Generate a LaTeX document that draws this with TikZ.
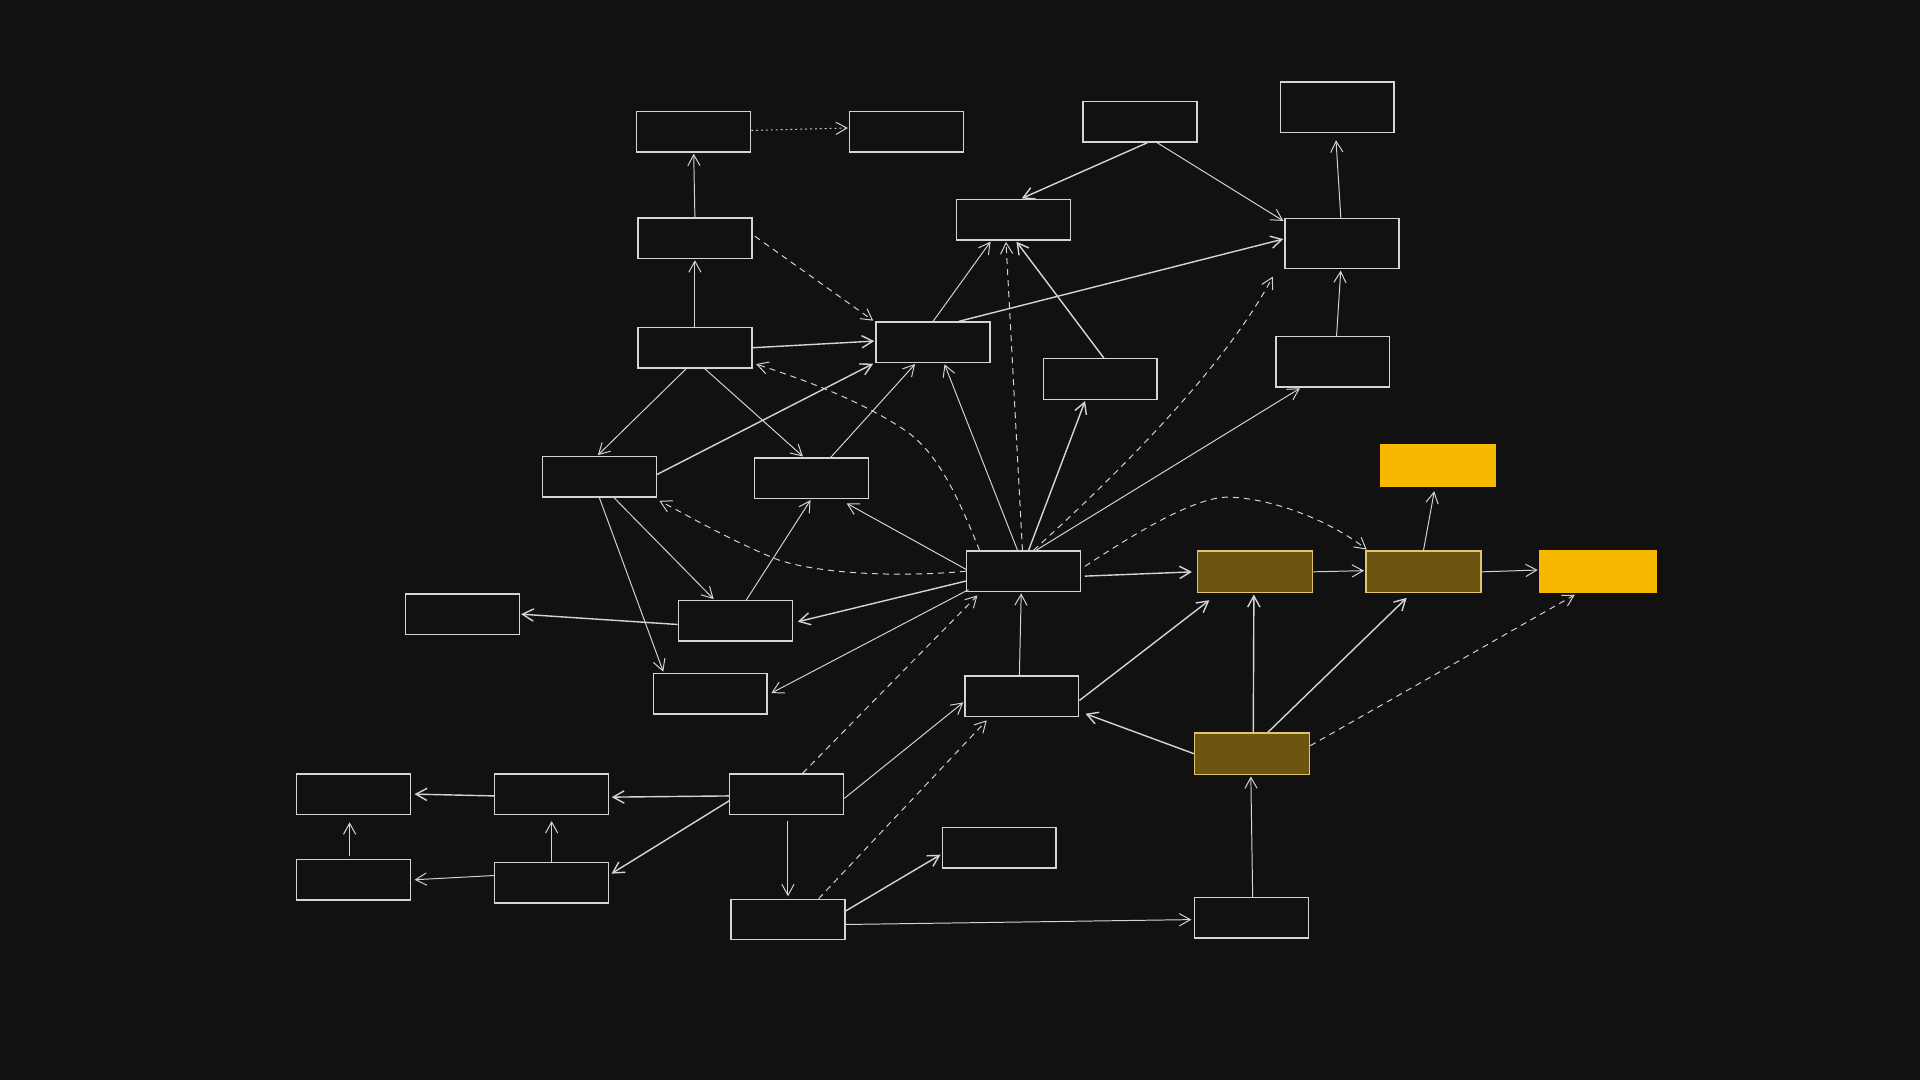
\documentclass[tikz,border=0pt]{standalone}
\usetikzlibrary{arrows.meta}
\definecolor{bgc}{HTML}{111111}
\definecolor{ln}{HTML}{D4D4D4}
\definecolor{brownf}{HTML}{6B5511}
\definecolor{browne}{HTML}{E2C56A}
\definecolor{yel}{HTML}{F8B800}
\tikzset{
  box/.style={draw=ln, line width=1.1pt, fill=bgc, minimum width=93pt, minimum height=33pt, inner sep=0pt},
  tallbox/.style={box, minimum height=41pt},
  brownbox/.style={box, draw=browne, fill=brownf, minimum width=94pt, minimum height=34pt},
  yelbox/.style={fill=yel, draw=none, minimum width=95pt, minimum height=35pt, inner sep=0pt},
  arr/.style={draw=ln, line width=0.8pt, -{Straight Barb[length=9pt,width=10pt]}, shorten >=1pt},
  dbl/.style={arr, line width=1.15pt},
  dsh/.style={arr, dash pattern=on 5pt off 4pt},
  dot/.style={arr, dash pattern=on 1.5pt off 2.5pt},
}
\begin{document}
\begin{tikzpicture}[x=1pt,y=-1pt]
\fill[bgc] (0,0) rectangle (1568,882);
\useasboundingbox (0,0) rectangle (1568,882);
% nodes
\node[box] (A) at (566.5,107.5) {};
\node[box] (B) at (740.5,107.5) {};
\node[box] (C) at (931,99.5) {};
\node[tallbox] (D) at (1092,87.5) {};
\node[box] (E) at (567.5,194.5) {};
\node[box] (F) at (827.5,179.5) {};
\node[tallbox] (G) at (1096,199) {};
\node[box] (H) at (567.5,284) {};
\node[box] (I) at (762,279.5) {};
\node[box] (J) at (898.5,309.5) {};
\node[tallbox] (K) at (1088.5,295.5) {};
\node[box] (L) at (489.5,389.5) {};
\node[box] (M) at (662.5,390.5) {};
\node[yelbox] (N) at (1174.5,380.5) {};
\node[box] (O) at (836,466.5) {};
\node[brownbox] (P) at (1025,467) {};
\node[brownbox] (Q) at (1162.5,467) {};
\node[yelbox, minimum width=96pt] (R) at (1305,466.5) {};
\node[box] (S) at (377.5,501.5) {};
\node[box] (T) at (600.5,507) {};
\node[box] (U) at (580,566.5) {};
\node[box] (V) at (834.5,568.5) {};
\node[brownbox] (W) at (1022.5,615.5) {};
\node[box] (X) at (288.5,648.5) {};
\node[box] (Y) at (450.5,648.5) {};
\node[box] (Z) at (642.5,648.5) {};
\node[box] (AA) at (816,692.5) {};
\node[box] (BB) at (288.5,718.5) {};
\node[box] (CC) at (450.5,721) {};
\node[box] (DD) at (643.5,751) {};
\node[box] (EE) at (1022,749.5) {};
% edges
\draw[dot] ([yshift=1pt]A.east) -- ([yshift=3pt]B.west);
\draw[arr] (E.north) -- (A.south);
\draw[arr] (H.north) -- (E.south);
\draw[dsh] ([xshift=2pt,yshift=1.5pt]E.east) -- ([xshift=-1pt]I.north west);
\draw[dbl] ([xshift=6pt]C.south) -- ([xshift=6pt]F.north);
\draw[arr] ([xshift=14pt]C.south) -- ([yshift=-3pt]G.north west);
\draw[arr] ([xshift=-1pt]G.north) -- ([xshift=-1pt,yshift=-5pt]D.south);
\draw[dbl] ([xshift=21pt]I.north) -- ([yshift=4pt]G.west);
\draw[arr] (I.north) -- ([xshift=-18pt]F.south);
\draw[dbl] ([xshift=3pt]J.north) -- ([xshift=2pt]F.south);
\draw[dsh] ([xshift=-1pt]O.north) -- ([xshift=-6pt]F.south);
\draw[arr] ([xshift=3pt]K.north) -- ([xshift=-1pt]G.south);
\draw[dbl] (H.east) -- ([yshift=1pt]I.west);
\draw[arr] ([xshift=-7pt]H.south) -- ([xshift=-2pt]L.north);
\draw[arr] ([xshift=8pt]H.south) -- ([xshift=-6pt]M.north);
\draw[dbl] ([yshift=2pt]L.east) -- ([xshift=-1pt]I.south west);
\draw[arr] ([xshift=16pt]M.north) -- ([xshift=-14pt]I.south);
\draw[arr] ([xshift=-5pt]O.north) -- ([xshift=9pt]I.south);
\draw[dbl] ([xshift=4pt]O.north) -- ([xshift=-12pt]J.south);
\draw[dsh] ([xshift=8pt]O.north) .. controls (915,385) and (1000,300) .. ([xshift=-9pt,yshift=-5pt]G.south west);
\draw[arr] ([xshift=10pt]O.north) -- ([xshift=-26pt]K.south);
\draw[dsh] ([xshift=-36pt]O.north) .. controls (780,400) and (765,370) .. (740,352) .. controls (700,325) and (650,308) .. ([xshift=2pt,yshift=4pt]H.south east);
\draw[dsh] (O.west) .. controls (730,472) and (660,468) .. (630,455) .. controls (590,438) and (560,420) .. ([xshift=1pt,yshift=-2pt]L.south east);
\draw[arr] ([yshift=1.5pt]O.west) -- ([xshift=-19pt,yshift=-3pt]M.south east);
\draw[arr] ([xshift=12pt]L.south) -- ([xshift=-17pt]T.north);
\draw[arr] (L.south) -- ([xshift=-38pt]U.north);
\draw[arr] ([xshift=9pt]T.north) -- (M.south);
\draw[dbl] ([yshift=-3pt]T.west) -- (S.east);
\draw[dbl] ([yshift=-8pt]O.west) -- ([xshift=3pt,yshift=-1pt]T.east);
\draw[arr] ([xshift=2pt,yshift=2pt]O.south west) -- ([xshift=2pt]U.east);
\draw[dbl] ([xshift=3pt,yshift=-4pt]O.east) -- ([xshift=-3pt]P.west);
\draw[arr] (P.east) -- ([yshift=1pt]Q.west);
\draw[arr] (Q.east) -- ([yshift=1pt]R.west);
\draw[arr] (Q.north) -- ([xshift=-3pt,yshift=-2pt]N.south);
\draw[dsh] ([xshift=3pt,yshift=4pt]O.east) .. controls (950,420) and (985,405) .. (1005,406) .. controls (1045,408) and (1090,428) .. ([xshift=2pt]Q.north west);
\draw[arr] ([xshift=-2pt]V.north) -- ([xshift=-2pt]O.south);
\draw[dbl] ([yshift=-3.5pt]V.east) -- ([xshift=11pt,yshift=-5pt]P.south west);
\draw[dbl] ([xshift=1pt]W.north) -- ([xshift=-1pt]P.south);
\draw[dbl] ([xshift=13pt]W.north) -- ([xshift=-13pt,yshift=-3pt]Q.south);
\draw[dbl] (W.west) -- ([xshift=4pt,yshift=3pt]V.south east);
\draw[dsh] ([yshift=6.5pt]W.east) -- ([xshift=-18pt,yshift=-1pt]R.south);
\draw[arr] ([xshift=1pt]EE.north) -- ([xshift=-1pt]W.south);
\draw[dsh] ([xshift=13pt]Z.north) -- ([xshift=10pt,yshift=-2pt]O.south west);
\draw[arr] ([yshift=-3.5pt]Z.east) -- ([yshift=-4.5pt]V.west);
\draw[dbl] ([yshift=-1.5pt]Z.west) -- ([xshift=1pt,yshift=-2.5pt]Y.east);
\draw[dbl] ([yshift=-5.5pt]Z.west) -- ([xshift=1pt,yshift=7pt]CC.east);
\draw[arr] ([xshift=1pt,yshift=-5pt]Z.south) -- ([yshift=1pt]DD.north);
\draw[dbl] ([yshift=-1.5pt]Y.west) -- ([xshift=2pt]X.east);
\draw[arr] (CC.north) -- ([yshift=-4pt]Y.south);
\draw[arr] ([yshift=6pt]CC.west) -- ([xshift=2pt]BB.east);
\draw[arr] ([xshift=-3pt,yshift=2pt]BB.north) -- ([xshift=-3pt,yshift=-5pt]X.south);
\draw[dsh] ([xshift=25pt]DD.north) -- ([xshift=-28pt,yshift=-2pt]V.south);
\draw[dbl] ([yshift=7pt]DD.east) -- ([yshift=-5pt]AA.west);
\draw[arr] ([yshift=-4pt]DD.east) -- ([xshift=-1pt,yshift=-1.5pt]EE.west);
\end{tikzpicture}
\end{document}
